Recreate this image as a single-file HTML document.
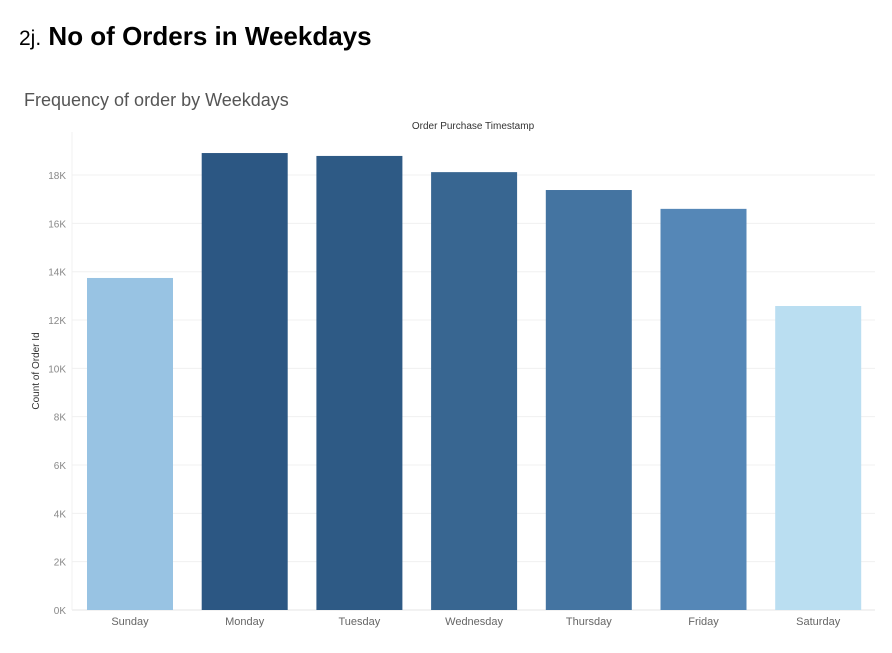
<!DOCTYPE html>
<html><head><meta charset="utf-8"><style>
body{margin:0;background:#fff;width:892px;height:653px;overflow:hidden;font-family:"Liberation Sans",sans-serif}
#title{position:absolute;left:19px;top:21px;font-size:26px;color:#000}
#title b{font-weight:bold}
</style></head><body>
<div id="title"><span style="font-size:21px">2j.</span> <b>No of Orders in Weekdays</b></div>
<svg id="chart" width="892" height="653" style="position:absolute;left:0;top:0"></svg>
<script>
const categories=["Sunday","Monday","Tuesday","Wednesday","Thursday","Friday","Saturday"];
const values=[13740,18910,18790,18120,17380,16600,12580];
const colors=["#98c3e3","#2c5783","#2e5a85","#386691","#4474a1","#5587b7","#badef1"];
const ticks=[0,2000,4000,6000,8000,10000,12000,14000,16000,18000];
const tickLabels=["0K","2K","4K","6K","8K","10K","12K","14K","16K","18K"];
const NS="http://www.w3.org/2000/svg";
const svg=document.getElementById('chart');
const y0=610,pxPer=48.33/2000,x0=72,step=114.7,bw=86,off=15;
const y=v=>y0-v*pxPer;
const x=i=>x0+off+i*step;
function mk(t,a,txt){const e=document.createElementNS(NS,t);for(const k in a)e.setAttribute(k,a[k]);if(txt!==undefined)e.textContent=txt;svg.appendChild(e);return e;}
let e;
e=mk('text',{x:24,y:106,'font-size':18,fill:'#555'},'Frequency of order by Weekdays');


e=mk('text',{x:473,y:129,'font-size':10,fill:'#333','text-anchor':'middle'},'Order Purchase Timestamp');


e=mk('text',{x:0,y:0,'font-size':10,fill:'#333','text-anchor':'middle',transform:'translate(39,371) rotate(-90)'},'Count of Order Id');


ticks.forEach((t,i)=>{
  e=mk('line',{x1:x0,x2:875,y1:y(t),y2:y(t),stroke:i==0?'#e6e6e6':'#f0f0f0','stroke-width':1});
  
  
  e=mk('text',{x:66,y:y(t)+4,'font-size':10,fill:'#888','text-anchor':'end'},tickLabels[i]);
  
  
});
e=mk('line',{x1:x0,x2:x0,y1:132,y2:y0,stroke:'#f0f0f0'});


categories.forEach((c,i)=>{
  e=mk('rect',{x:x(i),y:y(values[i]),width:bw,height:y0-y(values[i]),fill:colors[i]});
  
  
  e=mk('text',{x:x(i)+bw/2,y:625,'font-size':11,fill:'#666','text-anchor':'middle'},c);
  
  
});
</script>
</body></html>
